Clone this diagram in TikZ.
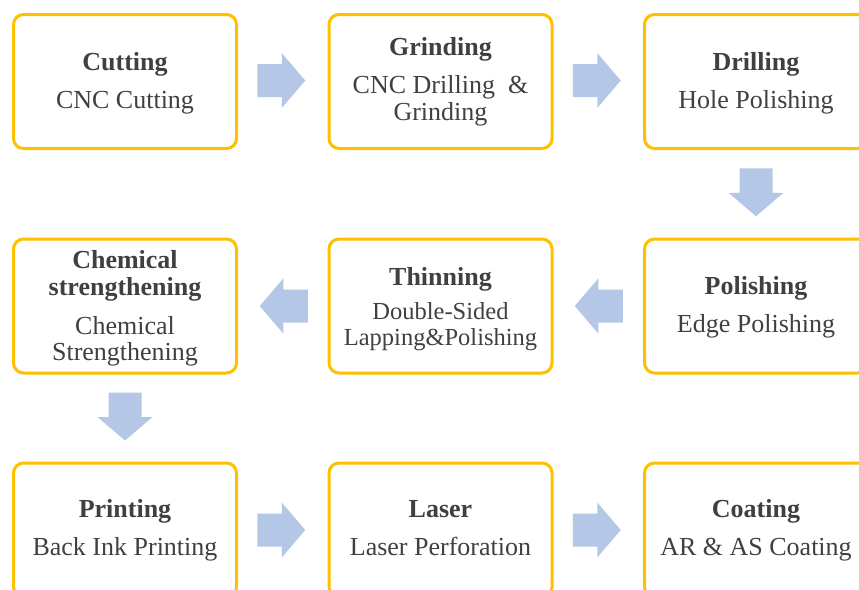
\documentclass[tikz,border=0pt]{standalone}
\usepackage{fontspec}
\setmainfont{Liberation Serif}
\usetikzlibrary{calc}
\definecolor{boxgold}{HTML}{FFC000}
\definecolor{arrowblue}{HTML}{B4C7E7}
\definecolor{txt}{HTML}{404040}
\begin{document}
\begin{tikzpicture}[x=1pt,y=1pt,
  box/.style={draw=boxgold, line width=3pt, rounded corners=10pt, minimum width=223pt, minimum height=134pt, inner sep=0pt, outer sep=0pt},
  ttl/.style={font=\fontsize{26}{27}\selectfont\bfseries, text=txt, anchor=base, inner sep=0pt},
  bdy/.style={font=\fontsize{26}{27}\selectfont, text=txt, anchor=base, inner sep=0pt},
  bdys/.style={font=\fontsize{24.5}{26}\selectfont, text=txt, anchor=base, inner sep=0pt},
  blockarrow/.pic={\fill[arrowblue] (-24,-16.5) -- (0.5,-16.5) -- (0.5,-27.5) -- (24,0) -- (0.5,27.5) -- (0.5,16.5) -- (-24,16.5) -- cycle;}]
\useasboundingbox (0,0) rectangle (859,-589);
\clip (0,0) rectangle (859,-589);
\fill[white] (0,0) rectangle (859,-589);

% boxes
\node[box] (b1) at (125,-81.5) {};
\node[box] (b2) at (440.5,-81.5) {};
\node[box] (b3) at (756,-81.5) {};
\node[box] (b4) at (756,-306) {};
\node[box] (b5) at (440.5,-306) {};
\node[box] (b6) at (125,-306) {};
\node[box] (b7) at (125,-530) {};
\node[box] (b8) at (440.5,-530) {};
\node[box] (b9) at (756,-530) {};

% texts
\node[ttl] (t1) at (125,-70) {Cutting};
\node[bdy] (s1) at (125,-108) {CNC Cutting};

\node[ttl] (t2) at (440.5,-55) {Grinding};
\node[bdy] (s2a) at (440.5,-93) {CNC Drilling\ \ \&};
\node[bdy] (s2b) at (440.5,-120) {Grinding};

\node[ttl] (t3) at (756,-70) {Drilling};
\node[bdy] (s3) at (756,-108) {Hole Polishing};

\node[ttl] (t4) at (756,-294.5) {Polishing};
\node[bdy] (s4) at (756,-332.5) {Edge Polishing};

\node[ttl] (t5) at (440.5,-285) {Thinning};
\node[bdys] (s5a) at (440.5,-319) {Double-Sided};
\node[bdys] (s5b) at (440.5,-345) {Lapping\&Polishing};

\node[ttl] (t6a) at (125,-268) {Chemical};
\node[ttl] (t6b) at (125,-295) {strengthening};
\node[bdy] (s6a) at (125,-334) {Chemical};
\node[bdy] (s6b) at (125,-360) {Strengthening};

\node[ttl] (t7) at (125,-517.5) {Printing};
\node[bdy] (s7) at (125,-555.5) {Back Ink Printing};

\node[ttl] (t8) at (440.5,-517.5) {Laser};
\node[bdy] (s8) at (440.5,-555.5) {Laser Perforation};

\node[ttl] (t9) at (756,-517.5) {Coating};
\node[bdy] (s9) at (756,-555.5) {AR \& AS Coating};

% block arrows
\pic at ($(b1.east)!0.5!(b2.west)+(-1.5,1)$) {blockarrow};
\pic at ($(b2.east)!0.5!(b3.west)+(-1.5,1)$) {blockarrow};
\pic[rotate=-90] at ($(b3.south)!0.5!(b4.north)+(0,1.5)$) {blockarrow};
\pic[rotate=180] at ($(b4.west)!0.5!(b5.east)+(0.5,0)$) {blockarrow};
\pic[rotate=180] at ($(b5.west)!0.5!(b6.east)+(1,0)$) {blockarrow};
\pic[rotate=-90] at ($(b6.south)!0.5!(b7.north)+(0,1.5)$) {blockarrow};
\pic at ($(b7.east)!0.5!(b8.west)+(-1.5,0)$) {blockarrow};
\pic at ($(b8.east)!0.5!(b9.west)+(-1.5,0)$) {blockarrow};
\end{tikzpicture}
\end{document}
